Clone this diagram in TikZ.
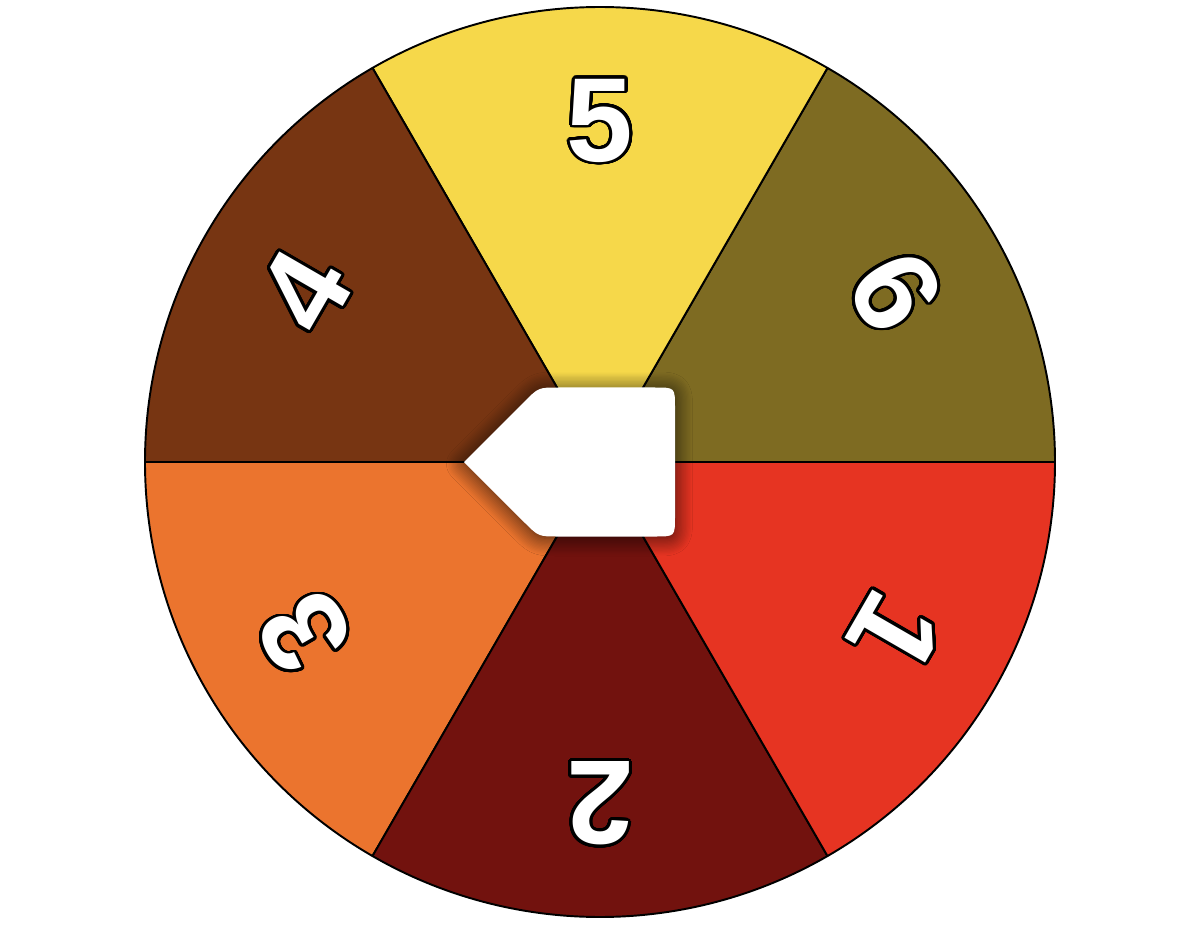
\documentclass[tikz,border=0pt]{standalone}
\usepackage{fontspec}
\setmainfont{Liberation Sans}
\usepackage{contour}
\contourlength{1.6pt}
\contournumber{48}
\usetikzlibrary{shadows.blur}
\definecolor{cyel}{HTML}{F6D84A}
\definecolor{colive}{HTML}{7E6B22}
\definecolor{cred}{HTML}{E63422}
\definecolor{cdred}{HTML}{72120E}
\definecolor{corange}{HTML}{EB742E}
\definecolor{cbrown}{HTML}{773512}
\tikzset{
  sector/.style={draw=black, line width=1.1pt, line join=round},
  digit/.style={font=\fontsize{68}{68}\selectfont\bfseries, text=white, inner sep=0pt},
  pointer/.style={fill=white, draw=none, blur shadow={shadow xshift=0pt, shadow yshift=-0.04cm, shadow blur radius=0.35cm, shadow opacity=75, shadow blur steps=14}}
}
\newcommand{\wdigit}[1]{\contour{black}{#1}}
\begin{document}
\begin{tikzpicture}
\useasboundingbox (-12.0,-9.32) rectangle (12.08,9.24);
\coordinate (O) at (0,0);
\def\R{9.1}
\filldraw[sector, fill=colive] (O) -- (0:\R) arc (0:60:\R) -- cycle;
\filldraw[sector, fill=cyel] (O) -- (60:\R) arc (60:120:\R) -- cycle;
\filldraw[sector, fill=cbrown] (O) -- (120:\R) arc (120:180:\R) -- cycle;
\filldraw[sector, fill=corange] (O) -- (180:\R) arc (180:240:\R) -- cycle;
\filldraw[sector, fill=cdred] (O) -- (240:\R) arc (240:300:\R) -- cycle;
\filldraw[sector, fill=cred] (O) -- (300:\R) arc (300:360:\R) -- cycle;
\node[digit, rotate=-120] (d1) at (-30:6.8) {\wdigit{1}};
\node[digit, rotate=180] (d2) at (-90:6.8) {\wdigit{2}};
\node[digit, rotate=120] (d3) at (-150:6.8) {\wdigit{3}};
\node[digit, rotate=60] (d4) at (150:6.8) {\wdigit{4}};
\node[digit] (d5) at (90:6.8) {\wdigit{5}};
\node[digit, rotate=-60] (d6) at (30:6.8) {\wdigit{6}};
\path[pointer] (-2.72,0) -- (-1.513,1.207) .. controls (-1.23,1.49) .. (-0.83,1.49)
  -- (1.1,1.49) .. controls (1.5,1.49) .. (1.5,1.09)
  -- (1.5,-1.09) .. controls (1.5,-1.49) .. (1.1,-1.49)
  -- (-0.83,-1.49) .. controls (-1.23,-1.49) .. (-1.513,-1.207) -- cycle;
\end{tikzpicture}
\end{document}
